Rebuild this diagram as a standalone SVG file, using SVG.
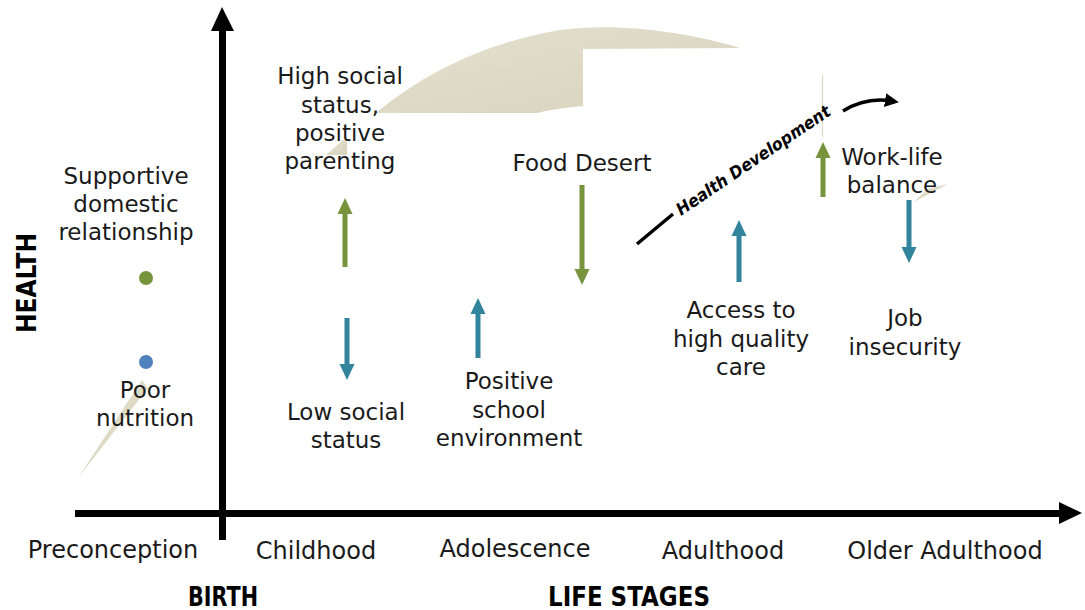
<svg xmlns="http://www.w3.org/2000/svg" width="1085" height="610" viewBox="0 0 1085 610">
<defs>
<linearGradient id="beige" x1="0" y1="0" x2="1" y2="1">
<stop offset="0" stop-color="#e4e1d0"/>
<stop offset="1" stop-color="#d7d2bb"/>
</linearGradient>
<marker id="blk" markerWidth="14" markerHeight="14" refX="6" refY="7" orient="auto" markerUnits="userSpaceOnUse" viewBox="0 0 14 14">
<path d="M0,0 L14,7 L0,14 Z" fill="#000"/>
</marker>
</defs>
<style>
.t{font-family:"DejaVu Sans","Liberation Sans",sans-serif;font-size:23px;fill:#1a1a1a;text-anchor:middle}
.ax{font-family:"DejaVu Sans","Liberation Sans",sans-serif;font-size:24px;fill:#1a1a1a;text-anchor:middle}
.b{font-family:"DejaVu Sans","Liberation Sans",sans-serif;font-weight:bold;font-size:26px;fill:#000;text-anchor:middle}
.g{fill:#77933c}
.c{fill:#31849b}
.bg{fill:url(#beige)}
</style>
<rect width="1085" height="610" fill="#fff"/>
<g id="beige-arrow">
<path class="bg" d="M376,113 C410,85 470,45 560,30 C620,22 690,33 740,48 L583,49 L583,106 C560,108 545,111 537,113 Z"/>
<polygon class="bg" points="78,478 142,380 148,388"/>
<polygon class="bg" points="326,155 343,140 347,140 347,155"/>
<line x1="822.5" y1="75" x2="822.5" y2="137" stroke="#ddd9c4" stroke-width="1.2"/>
<polygon class="bg" points="914,202 927,189 948,184"/>
</g>
<g id="axes">
<rect x="219" y="28" width="7" height="512" fill="#000"/>
<polygon points="222,7 211,31 234,31" fill="#000"/>
<rect x="75" y="510" width="986" height="7" fill="#000"/>
<polygon points="1082,513 1059,502 1059,524" fill="#000"/>
</g>
<g id="connectors">
<g id="arrow-high-social">
<rect class="g" x="342.5" y="212" width="5" height="55"/>
<polygon class="g" points="345,198 337.5,214 352.5,214"/>
</g>
<g id="arrow-low-social">
<rect class="c" x="344.5" y="318" width="5" height="50"/>
<polygon class="c" points="347,380 339.5,364 354.5,364"/>
</g>
<g id="arrow-school">
<rect class="c" x="475.5" y="312" width="5" height="46"/>
<polygon class="c" points="478,298 470.5,314 485.5,314"/>
</g>
<g id="arrow-food">
<rect class="g" x="579.5" y="185" width="5" height="88"/>
<polygon class="g" points="582,285 574.5,269 589.5,269"/>
</g>
<g id="arrow-access">
<rect class="c" x="736.5" y="234" width="5" height="48"/>
<polygon class="c" points="739,220 731.5,236 746.5,236"/>
</g>
<g id="arrow-worklife">
<rect class="g" x="820.5" y="156" width="5" height="41"/>
<polygon class="g" points="823,142 815.5,158 830.5,158"/>
</g>
<g id="arrow-job">
<rect class="c" x="906.5" y="200" width="5" height="51"/>
<polygon class="c" points="909,263 901.5,247 916.5,247"/>
</g>
<line x1="637" y1="244" x2="673" y2="214" stroke="#000" stroke-width="3.5"/>
<path d="M843,111 Q866,97 891,101" fill="none" stroke="#000" stroke-width="3.5" marker-end="url(#blk)"/>
</g>
<g id="health-development">
<text transform="translate(681,216) rotate(-34)" font-family="DejaVu Sans,Liberation Sans,sans-serif" font-weight="bold" font-style="italic" font-size="17" textLength="182" lengthAdjust="spacingAndGlyphs" fill="#000">Health Development</text>
</g>
<g id="node-supportive">
<circle cx="146" cy="278" r="7" fill="#77933c"/>
<text class="t" x="126" y="184">Supportive</text>
<text class="t" x="126" y="212">domestic</text>
<text class="t" x="126" y="240">relationship</text>
</g>
<g id="node-poor-nutrition">
<circle cx="146" cy="362" r="7" fill="#4f81bd"/>
<text class="t" x="145" y="398">Poor</text>
<text class="t" x="145" y="426">nutrition</text>
</g>
<g id="node-high-social">
<text class="t" x="340" y="84">High social</text>
<text class="t" x="340" y="113">status,</text>
<text class="t" x="340" y="141">positive</text>
<text class="t" x="340" y="169">parenting</text>
</g>
<g id="node-food-desert">
<text class="t" x="582" y="171">Food Desert</text>
</g>
<g id="node-low-social">
<text class="t" x="346" y="420">Low social</text>
<text class="t" x="346" y="448">status</text>
</g>
<g id="node-school">
<text class="t" x="509" y="389">Positive</text>
<text class="t" x="509" y="418">school</text>
<text class="t" x="509" y="446">environment</text>
</g>
<g id="node-access">
<text class="t" x="741" y="318">Access to</text>
<text class="t" x="741" y="347">high quality</text>
<text class="t" x="741" y="375">care</text>
</g>
<g id="node-job">
<text class="t" x="905" y="326">Job</text>
<text class="t" x="905" y="355">insecurity</text>
</g>
<g id="node-worklife">
<text class="t" x="892" y="165">Work-life</text>
<text class="t" x="892" y="193">balance</text>
</g>
<g id="axis-labels">
<text class="ax" x="113" y="558">Preconception</text>
<text class="ax" x="316" y="559">Childhood</text>
<text class="ax" x="515" y="557">Adolescence</text>
<text class="ax" x="723" y="559">Adulthood</text>
<text class="ax" x="945" y="559">Older Adulthood</text>
<text class="b" x="223" y="606" textLength="70" lengthAdjust="spacingAndGlyphs">BIRTH</text>
<text class="b" x="629" y="606" textLength="162" lengthAdjust="spacingAndGlyphs">LIFE STAGES</text>
<text class="b" transform="translate(36,283) rotate(-90)" font-size="22" textLength="100" lengthAdjust="spacingAndGlyphs">HEALTH</text>
</g>
</svg>
